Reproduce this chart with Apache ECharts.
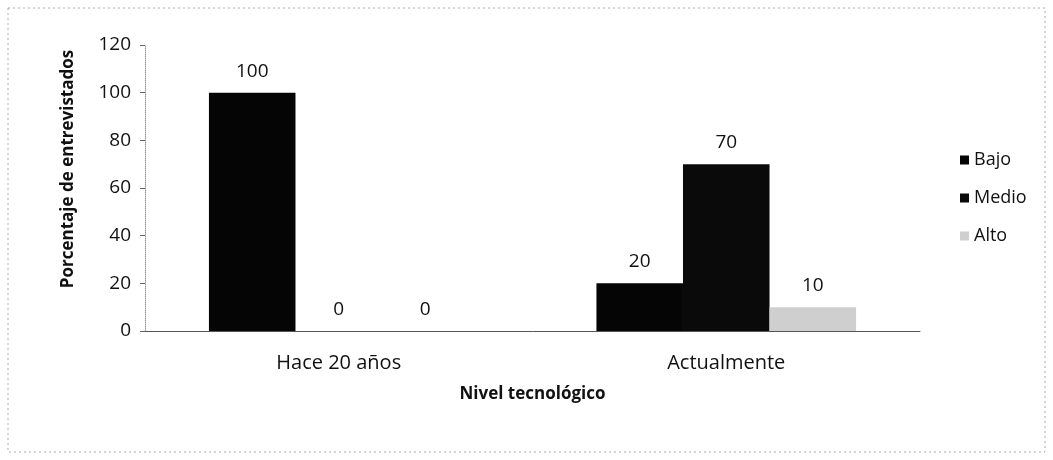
<!DOCTYPE html>
<html><head><meta charset="utf-8">
<script src="https://cdn.jsdelivr.net/npm/echarts@6/dist/echarts.min.js"></script>
<style>html,body{margin:0;padding:0;background:#fff}#c{width:1053px;height:460px}</style>
</head><body><div id="c"></div>
<script>
const categories = ['Hace 20 años', 'Actualmente'];
const seriesNames = ['Bajo', 'Medio', 'Alto'];
const bajo = [100, 20];
const medio = [0, 70];
const alto = [0, 10];
const yTicks = [0, 20, 40, 60, 80, 100, 120];

const colors = ['#050505', '#0a0a0a', '#cfcfcf'];
const font = 'Open Sans';
const chart = echarts.init(document.getElementById('c'));
const mk = (name, data, i) => ({
  name, type: 'bar', data, barGap: '0%', barCategoryGap: '33%',
  itemStyle: { color: colors[i] },
  label: { show: true, position: 'top', distance: 12, color: '#111', fontFamily: font, fontSize: 19 }
});
chart.setOption({
  animation: false,
  textStyle: { fontFamily: font },
  graphic: [{ type: 'rect', shape: { x: 8, y: 8, width: 1037, height: 444 },
    style: { fill: 'none', stroke: '#aaa', lineWidth: 1, lineDash: [2, 3] } }],
  grid: { left: 145, right: 133, top: 45, bottom: 129 },
  legend: {
    orient: 'vertical', left: 955, top: 146, itemGap: 20, itemWidth: 9, itemHeight: 9,
    icon: 'rect', textStyle: { fontFamily: font, fontSize: 18, color: '#111' },
    data: seriesNames
  },
  xAxis: {
    type: 'category', data: categories,
    name: 'Nivel tecnológico', nameLocation: 'middle', nameGap: 55,
    nameTextStyle: { fontFamily: font, fontSize: 17, fontWeight: 'bold', color: '#111' },
    axisTick: { show: false },
    axisLine: { lineStyle: { color: '#555', width: 1 } },
    axisLabel: { fontFamily: font, fontSize: 20, color: '#111', margin: 22 }
  },
  yAxis: {
    type: 'value', min: yTicks[0], max: yTicks[yTicks.length - 1], interval: 20,
    name: 'Porcentaje de entrevistados', nameLocation: 'middle', nameGap: 68,
    nameTextStyle: { fontFamily: font, fontSize: 17, fontWeight: 'bold', color: '#111', padding: [0, 0, 0, 38] },
    axisLine: { show: true, lineStyle: { color: '#999', type: 'dotted' } },
    axisTick: { show: true, length: 5, lineStyle: { color: '#666' } },
    splitLine: { show: false },
    axisLabel: { fontFamily: font, fontSize: 19, color: '#111', margin: 14 }
  },
  series: [mk('Bajo', bajo, 0), mk('Medio', medio, 1), mk('Alto', alto, 2)]
});
</script></body></html>
